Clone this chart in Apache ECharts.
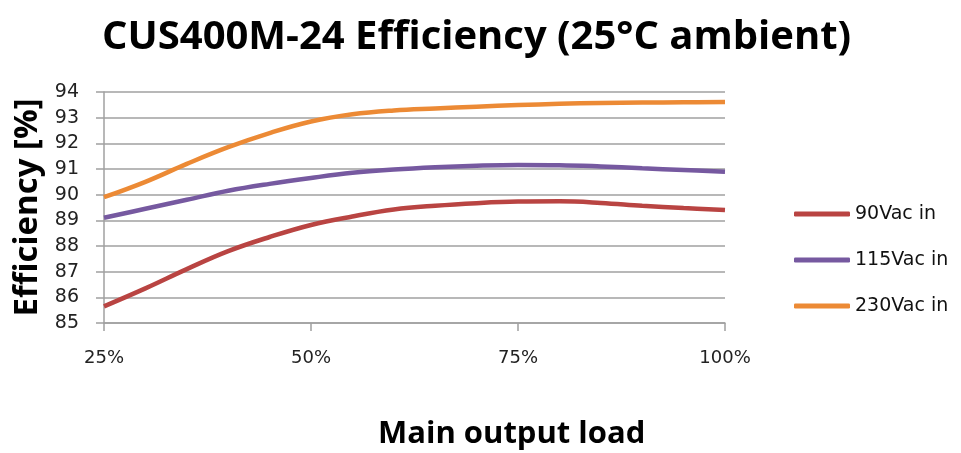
<!DOCTYPE html>
<html>
<head>
<meta charset="utf-8">
<script src="https://cdn.jsdelivr.net/npm/echarts@6/dist/echarts.min.js"></script>
<style>html,body{margin:0;padding:0;background:#fff}#c{width:961px;height:453px}</style>
</head>
<body>
<div id="c"></div>
<script>
const loads = [25, 30, 35, 40, 45, 50, 55, 60, 65, 70, 75, 80, 85, 90, 95, 100];
const v90 = [85.65, 86.35, 87.1, 87.8, 88.35, 88.82, 89.15, 89.42, 89.57, 89.67, 89.73, 89.74, 89.68, 89.57, 89.48, 89.4];
const v115 = [89.1, 89.45, 89.8, 90.15, 90.42, 90.65, 90.85, 90.98, 91.07, 91.13, 91.16, 91.15, 91.1, 91.03, 90.96, 90.89];
const v230 = [89.9, 90.5, 91.2, 91.85, 92.4, 92.85, 93.13, 93.28, 93.36, 93.43, 93.49, 93.54, 93.57, 93.59, 93.6, 93.61];
const seriesNames = ['90Vac in', '115Vac in', '230Vac in'];
const xTicks = [25, 50, 75, 100];
const yTicks = [85, 86, 87, 88, 89, 90, 91, 92, 93, 94];
const titleText = 'CUS400M-24 Efficiency (25°C ambient)';
const xName = 'Main output load';
const yName = 'Efficiency [%]';

const colors = ['#b94442', '#7659a0', '#ec8a35'];
const boldFont = 'Open Sans';
const labelFont = 'DejaVu Sans';
const pairs = a => loads.map((x, i) => [x, a[i]]);

const chart = echarts.init(document.getElementById('c'));
chart.setOption({
  animation: false,
  backgroundColor: '#fff',
  title: {
    text: titleText, left: 97, top: 13,
    textStyle: { fontFamily: boldFont, fontWeight: 'bold', fontSize: 40, color: '#000' }
  },
  graphic: [{
    type: 'text', left: 378, top: 419,
    style: { text: xName, fontFamily: boldFont, fontWeight: 'bold', fontSize: 31, fill: '#000' }
  }],
  legend: {
    orient: 'vertical', left: 794, top: 204, padding: 0,
    itemWidth: 56, itemHeight: 5, itemGap: 26,
    icon: 'roundRect',
    textStyle: { fontFamily: labelFont, fontSize: 19, lineHeight: 20, color: '#111' },
    data: seriesNames
  },
  grid: { left: 104, right: 236, top: 92, bottom: 130, containLabel: false },
  xAxis: {
    type: 'value', min: xTicks[0], max: xTicks[xTicks.length - 1], interval: 25,
    axisLine: { show: true, lineStyle: { color: '#a0a0a0', width: 1.5 } },
    axisTick: { show: true, length: 8, lineStyle: { color: '#a0a0a0', width: 1.5 } },
    splitLine: { show: false },
    axisLabel: { fontFamily: labelFont, fontSize: 18, color: '#222', margin: 26, formatter: v => v + '%' }
  },
  yAxis: {
    type: 'value', min: yTicks[0], max: yTicks[yTicks.length - 1], interval: 1,
    name: yName, nameLocation: 'middle', nameGap: 60, nameRotate: 90,
    nameTextStyle: { fontFamily: boldFont, fontWeight: 'bold', fontSize: 33, color: '#000' },
    axisLine: { show: true, lineStyle: { color: '#a0a0a0', width: 1.5 } },
    axisTick: { show: true, length: 8, lineStyle: { color: '#a0a0a0', width: 1.5 } },
    splitLine: { show: true, lineStyle: { color: '#a0a0a0', width: 1.5 } },
    axisLabel: { fontFamily: labelFont, fontSize: 19, color: '#222', margin: 25 }
  },
  series: [v90, v115, v230].map((d, i) => ({
    name: seriesNames[i], type: 'line', data: pairs(d), smooth: 0.4,
    showSymbol: false, symbol: 'none',
    lineStyle: { color: colors[i], width: 4.5 },
    itemStyle: { color: colors[i] }
  }))
});
</script>
</body>
</html>
